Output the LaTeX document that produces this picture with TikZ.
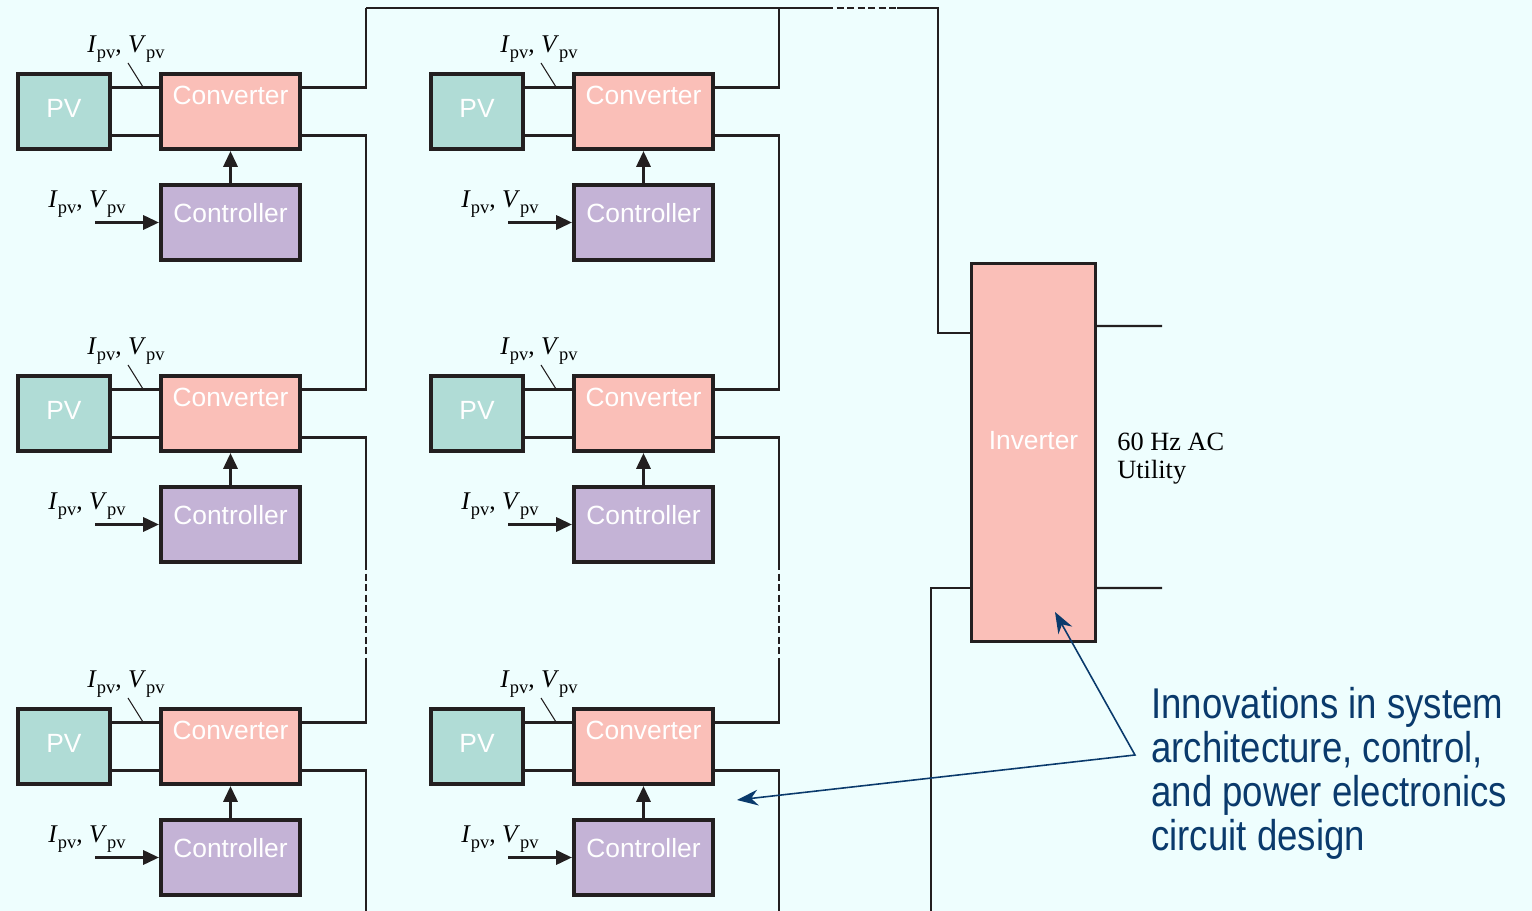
\documentclass[tikz,border=0pt]{standalone}
\usepackage{fontspec}
\setmainfont{Liberation Serif}
\setsansfont{Liberation Sans}
\newfontfamily\narrowsans[FakeStretch=0.85]{Liberation Sans}
\usetikzlibrary{arrows.meta,calc}
\definecolor{bgcyan}{HTML}{EEFEFE}
\definecolor{boxteal}{HTML}{B0DCD6}
\definecolor{boxpink}{HTML}{FABFB8}
\definecolor{boxlilac}{HTML}{C4B3D6}
\definecolor{wireblack}{HTML}{231F20}
\definecolor{notenavy}{HTML}{0A3A6C}
\newcommand{\subpv}{\raisebox{-0.5ex}{\fontsize{10.5}{10.5}\selectfont pv}}
\newcommand{\ivpv}{\textit{I}\subpv, \textit{V}\subpv}

\begin{document}
\begin{tikzpicture}[x=0.02cm, y=-0.02cm, >=Stealth,
  box/.style={draw=wireblack, line width=2.3pt, text=white, inner sep=0pt, font=\sffamily\fontsize{15}{18}\selectfont},
  pvbox/.style={box, fill=boxteal, minimum width=1.84cm, minimum height=1.5cm, text depth=0.12cm},
  convbox/.style={box, fill=boxpink, minimum width=2.78cm, minimum height=1.5cm, text depth=0.64cm},
  ctrlbox/.style={box, fill=boxlilac, minimum width=2.78cm, minimum height=1.5cm, text depth=0.38cm},
  invbox/.style={box, line width=1.5pt, fill=boxpink, minimum width=2.49cm, minimum height=7.57cm, text depth=0.5cm},
  wire/.style={draw=wireblack, line width=1.2pt},
  gap/.style={wire, dash pattern=on 4pt off 2pt},
  sig/.style={draw=wireblack, line width=1.7pt, -{Triangle[length=9pt,width=8pt]}},
  tick/.style={draw=wireblack, line width=0.6pt},
  meas/.style={font=\fontsize{14.5}{16}\selectfont, inner sep=0pt, anchor=base west},
  utility/.style={font=\fontsize{15}{15.5}\selectfont, align=left, inner sep=0pt, anchor=north west},
  note/.style={text=notenavy, font=\narrowsans\fontsize{24.5}{25}\selectfont, align=left, inner sep=0pt, anchor=north west},
  pointer/.style={draw=notenavy, line width=0.9pt, {Stealth[length=12pt,width=9pt]}-{Stealth[length=12pt,width=9pt]}}]
\useasboundingbox (0,0) rectangle (1532,911);
\fill[bgcyan] (0,0) rectangle (1532,911);
% modules: two strings of three
\foreach \c/\x in {1/0, 2/413} {
  \coordinate (bus-\c) at (366+\x,8);
  \coordinate (gap-a-\c) at (366+\x,563);
  \coordinate (gap-b-\c) at (366+\x,658);
  \coordinate (bot-\c) at (366+\x,911);
  \foreach \r/\y in {1/0, 2/302, 3/635} {
    \node[pvbox]   (pv-\c-\r)   at (64+\x,111.5+\y)  {PV};
    \node[convbox] (conv-\c-\r) at (230.5+\x,111.5+\y) {Converter};
    \node[ctrlbox] (ctrl-\c-\r) at (230.5+\x,222.5+\y) {Controller};
    \node[meas] (lab-pv-\c-\r) at (87+\x,53+\y) {\ivpv};
    \node[meas] (lab-in-\c-\r) at (48+\x,208+\y) {\ivpv};
    \coordinate (in-\c-\r) at (95+\x,222.5+\y);
    \coordinate (out-t-\c-\r) at ([yshift=0.48cm]conv-\c-\r.east);
    \coordinate (out-b-\c-\r) at ([yshift=-0.48cm]conv-\c-\r.east);
    \draw[wire] ([yshift=0.48cm]pv-\c-\r.east) -- ([yshift=0.48cm]conv-\c-\r.west);
    \draw[wire] ([yshift=-0.48cm]pv-\c-\r.east) -- ([yshift=-0.48cm]conv-\c-\r.west);
    \draw[tick] (128+\x,63+\y) -- (143+\x,87+\y);
    \draw[sig] (in-\c-\r) -- (ctrl-\c-\r.west);
    \draw[sig] (ctrl-\c-\r) -- (conv-\c-\r);
  }
  % series connection down the string
  \draw[wire] (out-t-\c-1) -| (bus-\c);
  \draw[wire] (out-b-\c-1) -| (bus-\c |- out-t-\c-2) -- (out-t-\c-2);
  \draw[wire] (out-b-\c-2) -| (gap-a-\c);
  \draw[gap]  (gap-a-\c) -- (gap-b-\c);
  \draw[wire] (gap-b-\c) |- (out-t-\c-3);
  \draw[wire] (out-b-\c-3) -| (bot-\c);
}
% inverter
\node[invbox] (inv) at (1033.5,452.5) {Inverter};
\coordinate (inv-in-t) at ([yshift=2.39cm]inv.west);
\coordinate (inv-in-b) at ([yshift=-2.71cm]inv.west);
\coordinate (dash-l) at (826,8);
\coordinate (dash-r) at (897,8);
\coordinate (bot-inv) at (931,911);
\coordinate (ac-1) at (1162,326);
\coordinate (ac-2) at (1162,588);
\draw[wire] (bus-1) -- (dash-l);
\draw[gap]  (dash-l) -- (dash-r);
\draw[wire] (dash-r) -| ([xshift=-0.64cm]inv-in-t) -- (inv-in-t);
\draw[wire] (inv-in-b) -| (bot-inv);
\draw[wire] ([yshift=2.53cm]inv.east) -- (ac-1);
\draw[wire] ([yshift=-2.71cm]inv.east) -- (ac-2);
\node[utility] (ac-text) at (1117,433) {60 Hz AC\\Utility};
% annotation
\node[note] (note) at (1151,687) {Innovations in system\\architecture, control,\\and power electronics\\circuit design};
\coordinate (tip-inv) at (1055,612);
\coordinate (bend) at (1135,755);
\coordinate (tip-mod) at (737,800);
\draw[pointer] (tip-inv) -- (bend) -- (tip-mod);
\end{tikzpicture}
\end{document}
